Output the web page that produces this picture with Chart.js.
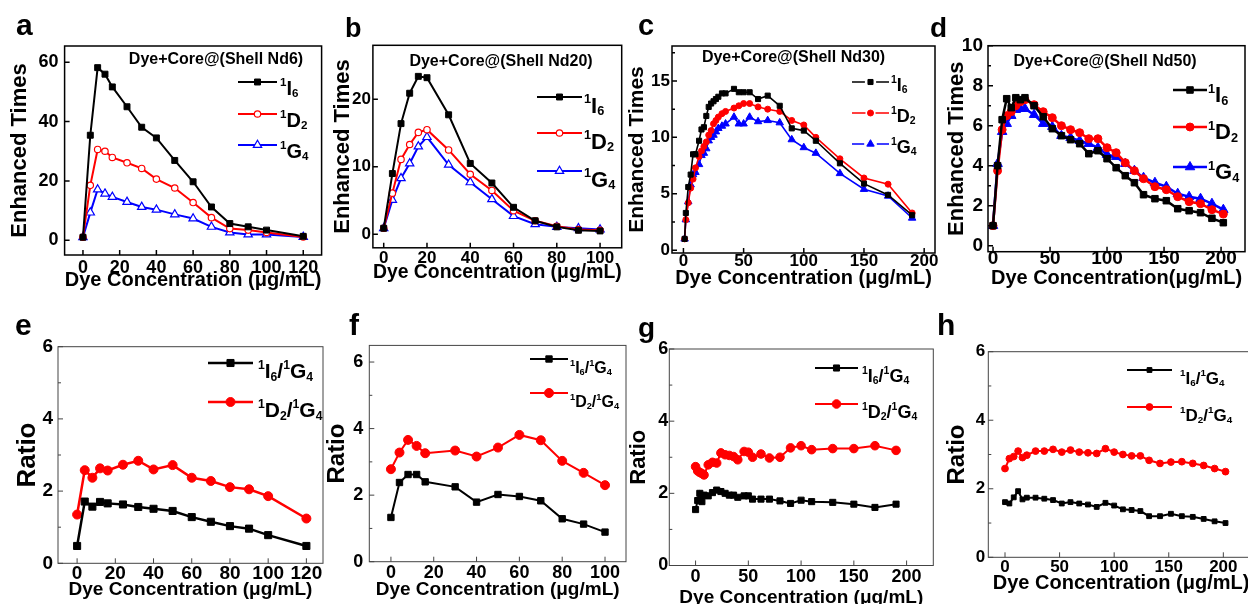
<!DOCTYPE html>
<html><head><meta charset="utf-8">
<script src="https://cdn.jsdelivr.net/npm/chart.js@4.4.0/dist/chart.umd.min.js"></script>
<style>
html,body{margin:0;padding:0;width:1248px;height:604px;overflow:hidden;background:#fff;position:relative;}
canvas{position:absolute;}
</style></head><body>
<script>
// ---------- DATA ----------
const seriesTop = ['¹I₆', '¹D₂', '¹G₄'];
const seriesRatio = ['¹I₆/¹G₄', '¹D₂/¹G₄'];

// panel a (Shell Nd6)
const xA = [0,4,8,12,16,24,32,40,50,60,70,80,90,100,120];
const aI6 = [1,35.4,58.2,56,51.7,45,38.1,34.5,26.9,19.7,11.2,5.6,4.5,3.4,1.3];
const aD2 = [1,18.5,30.6,30,27.9,26.1,24.2,20.6,17.6,12.7,7.6,3.9,3.4,2.6,1.1];
const aG4 = [1,9.3,17.1,15.7,14.6,12.9,11.2,10.3,8.7,7.3,4.5,2.6,1.9,1.9,1.1];

// panel b (Shell Nd20)
const xB = [0,4,8,12,16,20,30,40,50,60,70,80,90,100];
const bI6 = [0.9,9.0,16.4,20.9,23.4,23.2,17.7,10.5,7.6,4.0,2.0,1.1,0.6,0.5];
const bD2 = [0.9,6.1,11.1,13.3,15.1,15.5,12.5,8.9,6.5,3.5,2.0,1.2,0.7,0.6];
const bG4 = [0.9,5.1,8.3,10.5,13.0,14.4,10.3,7.7,5.2,2.7,1.5,1.1,0.9,0.7];

// panel c (Shell Nd30)
const xC = [1,2,4,6,8,10,13,15,17,19,21,23,25,27,29,32,35,42,46,50,55,62,70,80,90,100,110,130,150,170,190];
const cI6 = [1.0,3.3,5.6,6.7,8.5,8.5,9.7,10.7,10.9,11.9,12.7,13.0,13.2,13.4,13.6,13.9,13.9,14.3,14.0,14.0,14.0,13.4,13.7,12.8,10.8,10.6,9.7,7.7,5.9,4.9,3.1];
const cD2 = [1.0,2.7,4.2,5.5,6.3,7.3,8.3,8.8,9.2,9.6,10.2,10.6,11.2,11.5,11.8,12.1,12.3,12.6,12.8,13.0,13.0,12.7,12.5,12.3,11.5,11.1,10.0,8.1,6.4,5.85,3.3];
const cG4 = [1.0,2.7,4.3,5.8,6.7,6.9,7.6,8.4,8.6,9.0,9.7,10.0,10.2,10.5,10.8,11.0,11.2,11.8,11.2,11.2,11.8,11.4,11.5,11.3,9.8,9.1,8.6,6.8,5.4,4.8,2.85];

// panel d (Shell Nd50)
const xD = [0,4,8,12,16,20,24,28,36,44,52,60,68,76,84,92,100,108,116,124,132,142,152,162,172,182,192,202];
const dI6 = [1.0,4.0,6.3,7.35,6.9,7.4,7.3,7.4,7.0,6.45,5.85,5.5,5.3,5.1,4.6,4.75,4.35,3.9,3.5,3.15,2.55,2.35,2.25,1.85,1.75,1.65,1.37,1.15];
const dD2 = [1.0,3.75,5.8,6.5,6.7,7.0,7.2,7.3,7.05,6.7,6.4,6.0,5.8,5.65,5.35,5.35,4.9,4.65,4.15,3.75,3.35,2.95,2.8,2.45,2.2,2.1,1.8,1.58];
const dG4 = [1.0,4.1,5.7,6.1,6.5,6.8,6.85,6.85,6.55,6.1,5.95,5.5,5.4,5.25,5.1,4.9,4.55,4.45,4.1,3.75,3.4,3.15,2.95,2.6,2.45,2.35,2.1,1.8];

// panel e
const xE = [0,4,8,12,16,24,32,40,50,60,70,80,90,100,120];
const eI6G4 = [0.48,1.71,1.57,1.70,1.66,1.63,1.56,1.51,1.45,1.28,1.15,1.03,0.96,0.78,0.48];
const eD2G4 = [1.35,2.58,2.37,2.63,2.57,2.73,2.84,2.60,2.72,2.37,2.28,2.11,2.05,1.86,1.24];

// panel f
const xF = [0,4,8,12,16,30,40,50,60,70,80,90,100];
const fI6G4 = [1.33,2.38,2.62,2.62,2.40,2.25,1.79,2.02,1.96,1.83,1.29,1.13,0.89];
const fD2G4 = [2.78,3.28,3.66,3.48,3.26,3.34,3.16,3.43,3.81,3.65,3.03,2.67,2.30];

// panel g
const xG = [0,2,4,6,8,12,16,20,24,28,32,36,40,46,50,54,62,70,80,90,100,110,130,150,170,190];
const gI6G4 = [1.55,1.80,2.0,1.77,1.95,1.93,2.02,2.09,2.05,2.0,1.95,1.95,1.89,1.93,1.93,1.84,1.84,1.84,1.79,1.72,1.81,1.77,1.75,1.70,1.61,1.70];
const gD2G4 = [2.74,2.62,2.58,2.55,2.51,2.79,2.86,2.84,3.12,3.07,3.05,3.02,2.93,3.16,3.14,3.0,3.09,2.98,3.0,3.26,3.32,3.21,3.24,3.24,3.32,3.19];

// panel h
const xH = [0,4,8,12,16,20,28,36,44,52,60,68,76,84,92,100,108,116,124,132,142,152,162,172,182,192,202];
const hI6G4 = [1.61,1.57,1.75,1.93,1.69,1.74,1.74,1.71,1.67,1.57,1.61,1.57,1.54,1.47,1.59,1.51,1.40,1.38,1.35,1.2,1.2,1.27,1.2,1.18,1.12,1.05,1.0];
const hD2G4 = [2.59,2.88,2.94,3.1,2.91,2.98,3.1,3.1,3.15,3.07,3.13,3.07,3.05,3.03,3.17,3.07,3.0,2.96,2.96,2.83,2.74,2.78,2.79,2.74,2.68,2.59,2.5];

// tick labels
const ticksX120 = [0,20,40,60,80,100,120];
const ticksX100 = [0,20,40,60,80,100];
const ticksX200 = [0,50,100,150,200];
const ticksYa = [0,20,40,60];
const ticksYb = [0,10,20];
const ticksYc = [0,5,10,15];
const ticksYd = [0,2,4,6,8,10];
const ticksYr = [0,2,4,6];
const minorYr = [1,3,5];
const minorYc = [2.5,7.5,12.5,17.5];
const minorYd = [1,3,5,7,9];

const titleX = 'Dye Concentration (μg/mL)';
const titleXd = 'Dye Concentration(μg/mL)';
const titleYtop = 'Enhanced Times';
const titleYbot = 'Ratio';
const insetTitles = ['Dye+Core@(Shell Nd6)','Dye+Core@(Shell Nd20)','Dye+Core@(Shell Nd30)','Dye+Core@(Shell Nd50)'];
const panelLetters = ['a','b','c','d','e','f','g','h'];

// ---------- RENDERING ----------
const FAM = "'Liberation Sans', Arial, Helvetica, sans-serif";
const SUP = {'¹':'1','²':'2','³':'3'};
const SUB = {'₀':'0','₁':'1','₂':'2','₃':'3','₄':'4','₅':'5','₆':'6'};

function richText(ctx, str, x, y, size) {
  let cx = x;
  for (const ch of str) {
    let t = ch, s = size, dy = 0;
    if (SUP[ch]) { t = SUP[ch]; s = size*0.58; dy = -size*0.42; }
    else if (SUB[ch]) { t = SUB[ch]; s = size*0.58; dy = size*0.12; }
    ctx.font = 'bold ' + s + 'px ' + FAM;
    ctx.fillText(t, cx, y + dy);
    cx += ctx.measureText(t).width;
  }
}
function marker(ctx, style, x, y, r, fill, stroke, bw) {
  ctx.beginPath();
  if (style === 'rect') { const s = r*Math.SQRT1_2; ctx.rect(x-s, y-s, 2*s, 2*s); }
  else if (style === 'circle') { ctx.arc(x, y, r, 0, Math.PI*2); }
  else { for (let k = 0; k < 3; k++) { const a = k*2*Math.PI/3; const px = x + Math.sin(a)*r, py = y - Math.cos(a)*r; if (k) ctx.lineTo(px, py); else ctx.moveTo(px, py); } ctx.closePath(); }
  ctx.fillStyle = fill; ctx.fill(); ctx.lineWidth = bw; ctx.strokeStyle = stroke; ctx.stroke();
}

function makeDeco(p) {
  return {
    id: 'deco' + p.id,
    afterDatasetsDraw(chart) {
      const ctx = chart.ctx, ca = chart.chartArea, xs = chart.scales.x, ys = chart.scales.y;
      const ox = p.cx, oy = p.cy;
      ctx.save();
      ctx.strokeStyle = p.frame; ctx.lineWidth = p.fw;
      ctx.strokeRect(ca.left, ca.top, ca.right - ca.left, ca.bottom - ca.top);
      ctx.beginPath();
      p.xt.forEach(v => { const px = xs.getPixelForValue(v); ctx.moveTo(px, ca.bottom); ctx.lineTo(px, ca.bottom - 5); });
      p.yt.forEach(v => { const py = ys.getPixelForValue(v); ctx.moveTo(ca.left, py); ctx.lineTo(ca.left + 5, py); });
      (p.ym || []).forEach(v => { const py = ys.getPixelForValue(v); ctx.moveTo(ca.left, py); ctx.lineTo(ca.left + 3, py); });
      ctx.stroke();
      // panel letter
      ctx.fillStyle = '#000'; ctx.textAlign = 'left'; ctx.textBaseline = 'alphabetic';
      ctx.font = 'bold ' + p.letter.size + 'px ' + FAM;
      ctx.fillText(p.letter.t, p.letter.x - ox, p.letter.y - oy);
      if (p.inset) {
        ctx.font = 'bold ' + p.inset.size + 'px ' + FAM;
        ctx.textAlign = 'center'; ctx.textBaseline = 'middle';
        ctx.fillText(p.inset.t, p.inset.x - ox, p.inset.y - oy);
      }
      const lg = p.legend;
      p.series.forEach((s, i) => {
        const y = lg.rows[i] - oy, x1 = lg.x1 - ox, x2 = lg.x2 - ox, xm = (x1 + x2)/2;
        ctx.strokeStyle = s.color; ctx.lineWidth = p.lw; ctx.beginPath();
        if (lg.gap) { ctx.moveTo(x1, y); ctx.lineTo(xm - s.r - lg.gap, y); ctx.moveTo(xm + s.r + lg.gap, y); ctx.lineTo(x2, y); }
        else { ctx.moveTo(x1, y); ctx.lineTo(x2, y); }
        ctx.stroke();
        marker(ctx, s.style, xm, y, s.r, s.fill, s.color, s.bw);
        ctx.fillStyle = '#000'; ctx.textAlign = 'left'; ctx.textBaseline = 'alphabetic';
        richText(ctx, s.label, lg.tx - ox, y + lg.bo, lg.size);
      });
      ctx.restore();
    }
  };
}

function makePanel(p) {
  const cv = document.createElement('canvas');
  cv.width = p.cw; cv.height = p.ch;
  cv.style.left = p.cx + 'px'; cv.style.top = p.cy + 'px';
  document.body.appendChild(cv);
  const datasets = p.series.map(s => ({
    label: s.label,
    data: s.x.map((xv, i) => ({x: xv, y: s.y[i]})),
    borderColor: s.color, backgroundColor: s.fill, borderWidth: p.lw,
    pointStyle: s.style, pointRadius: s.r, pointBorderWidth: s.bw,
    pointBackgroundColor: s.fill, pointBorderColor: s.color,
    tension: 0, fill: false
  }));
  const B = p.box;
  new Chart(cv, {
    type: 'line',
    data: {datasets},
    options: {
      responsive: false, animation: false, events: [],
      layout: {autoPadding: false, padding: {left: 0, top: B.T - p.cy, right: p.cx + p.cw - B.R, bottom: 0}},
      plugins: {legend: {display: false}, tooltip: {enabled: false}},
      scales: {
        x: {
          type: 'linear', min: p.xr[0], max: p.xr[1],
          afterFit: s => { s.height = p.cy + p.ch - B.B; },
          afterBuildTicks: s => { s.ticks = p.xt.map(v => ({value: v})); },
          grid: {display: false, drawTicks: false}, border: {display: false},
          ticks: {autoSkip: false, maxRotation: 0, padding: p.xpad, color: '#000',
                  font: {family: FAM, size: p.tick, weight: 'bold'}, callback: v => String(v)},
          title: {display: true, text: p.xtitle, color: '#000',
                  font: {family: FAM, size: p.xts, weight: 'bold'}, padding: {top: 0, bottom: p.xtp}}
        },
        y: {
          type: 'linear', min: p.yr[0], max: p.yr[1],
          afterFit: s => { s.width = B.L - p.cx; },
          afterBuildTicks: s => { s.ticks = p.yt.map(v => ({value: v})); },
          grid: {display: false, drawTicks: false}, border: {display: false},
          ticks: {autoSkip: false, padding: p.ypad, color: '#000',
                  font: {family: FAM, size: p.tick, weight: 'bold'}, callback: v => String(v)},
          title: {display: true, text: p.ytitle, color: '#000',
                  font: {family: FAM, size: p.yts, weight: 'bold'}, padding: {top: p.ytp, bottom: 0}}
        }
      }
    },
    plugins: [makeDeco(p)]
  });
}

const BLK = '#000000', RED = '#ff0000', BLU = '#0000ff', WHT = '#ffffff';
function top3(x, a, b, c, open, rs) {
  return [
    {label: seriesTop[0], x, y: a, color: BLK, fill: BLK, style: 'rect', r: rs[0], bw: 1},
    {label: seriesTop[1], x, y: b, color: RED, fill: open ? WHT : RED, style: 'circle', r: rs[1], bw: open ? 1.2 : 1},
    {label: seriesTop[2], x, y: c, color: BLU, fill: open ? WHT : BLU, style: 'triangle', r: rs[2], bw: open ? 1.2 : 1}
  ];
}
function ratio2(x, a, b, rs) {
  return [
    {label: seriesRatio[0], x, y: a, color: BLK, fill: BLK, style: 'rect', r: rs[0], bw: 1},
    {label: seriesRatio[1], x, y: b, color: RED, fill: RED, style: 'circle', r: rs[1], bw: 1}
  ];
}

const panels = [
  {id:'a', cx:0, cy:0, cw:330, ch:300, box:{L:64.6,T:46,R:321.6,B:255}, xr:[-10,130], yr:[-5,65.5],
   xt:ticksX120, yt:ticksYa, tick:18, xpad:2.5, ypad:6, lw:2, frame:'#000', fw:1.5,
   xtitle:titleX, xts:20, xtp:8, ytitle:titleYtop, yts:22, ytp:6.8,
   letter:{t:panelLetters[0], x:16, y:35, size:30}, inset:{t:insetTitles[0], x:216, y:60, size:16},
   legend:{x1:238, x2:277, rows:[82,114,145], tx:280, size:20, bo:12.5},
   series: top3(xA, aI6, aD2, aG4, true, [4.2,3.2,4.8])},
  {id:'b', cx:325, cy:0, cw:305, ch:300, box:{L:372.9,T:45.3,R:621.7,B:247.8}, xr:[-5,110], yr:[-2,28],
   xt:ticksX100, yt:ticksYb, tick:17, xpad:0, ypad:2, lw:2, frame:'#000', fw:1.5,
   xtitle:titleX, xts:21, xtp:15, ytitle:titleYtop, yts:22, ytp:4.8,
   letter:{t:panelLetters[1], x:345, y:37, size:27}, inset:{t:insetTitles[1], x:501, y:62, size:16},
   legend:{x1:537, x2:582, rows:[97,133,171], tx:584, size:22, bo:15.5},
   series: top3(xB, bI6, bD2, bG4, true, [4.2,3.2,4.8])},
  {id:'c', cx:615, cy:0, cw:327, ch:300, box:{L:672,T:46,R:935,B:253}, xr:[-9.5,209], yr:[-0.25,18.1],
   xt:ticksX200, yt:ticksYc, ym:minorYc, tick:17, xpad:-2, ypad:2, lw:1.6, frame:'#000', fw:1.5,
   xtitle:titleX, xts:20, xtp:10, ytitle:titleYtop, yts:21, ytp:9.4,
   letter:{t:panelLetters[2], x:638, y:35, size:29}, inset:{t:insetTitles[2], x:793.5, y:58, size:16},
   legend:{x1:852, x2:889, rows:[82,113,144], tx:891, size:18, bo:9, gap:2},
   series: top3(xC, cI6, cD2, cG4, false, [3.6,3.0,4.3])},
  {id:'d', cx:922, cy:0, cw:326, ch:300, box:{L:988,T:45.7,R:1245,B:251.7}, xr:[-4.4,221], yr:[-0.3,10],
   xt:ticksX200, yt:ticksYd, ym:minorYd, tick:19, xpad:-4, ypad:5, lw:2.5, frame:'#000', fw:1.5,
   xtitle:titleXd, xts:20, xtp:10, ytitle:titleYtop, yts:22, ytp:21.8,
   letter:{t:panelLetters[3], x:930, y:37, size:28}, inset:{t:insetTitles[3], x:1105, y:62, size:16},
   legend:{x1:1173, x2:1207, rows:[90,127,167], tx:1208, size:22, bo:12},
   series: top3(xD, dI6, dD2, dG4, false, [4.6,4.0,5.5])},
  {id:'e', cx:0, cy:300, cw:330, ch:304, box:{L:58,T:346.7,R:323,B:563.3}, xr:[-10,128.7], yr:[0,6],
   xt:ticksX120, yt:ticksYr, ym:minorYr, tick:19, xpad:-1, ypad:5, lw:2.5, frame:'#444', fw:1,
   xtitle:titleX, xts:19, xtp:2.6, ytitle:titleYbot, yts:26, ytp:12.4,
   letter:{t:panelLetters[4], x:15, y:335, size:30},
   legend:{x1:208, x2:253, rows:[363,402], tx:258, size:21, bo:15},
   series: ratio2(xE, eI6G4, eD2G4, [5,4.5])},
  {id:'f', cx:315, cy:300, cw:315, ch:304, box:{L:369.3,T:345.4,R:626,B:561.7}, xr:[-10.1,109.8], yr:[0,6.5],
   xt:ticksX100, yt:ticksYr, ym:minorYr, tick:18, xpad:0.5, ypad:6, lw:2, frame:'#444', fw:1,
   xtitle:titleX, xts:19, xtp:2.6, ytitle:titleYbot, yts:24, ytp:7.6,
   letter:{t:panelLetters[5], x:349, y:335, size:30},
   legend:{x1:530, x2:568, rows:[359,393], tx:570, size:16, bo:14},
   series: ratio2(xF, fI6G4, fD2G4, [4.5,4.5])},
  {id:'g', cx:615, cy:300, cw:325, ch:320, box:{L:669.3,T:349,R:933.3,B:565.5}, xr:[-24.9,225.3], yr:[0,6],
   xt:ticksX200, yt:ticksYr, ym:minorYr, tick:18, xpad:0.5, ypad:1, lw:2, frame:'#444', fw:1,
   xtitle:titleX, xts:19, xtp:10.6, ytitle:titleYbot, yts:22, ytp:10.8,
   letter:{t:panelLetters[6], x:638, y:337, size:28},
   legend:{x1:815, x2:858, rows:[368,404], tx:862, size:18, bo:14},
   series: ratio2(xG, gI6G4, gD2G4, [4.3,4.3])},
  {id:'h', cx:935, cy:300, cw:330, ch:304, box:{L:988.3,T:351.7,R:1253.9,B:557.3}, xr:[-15.3,228], yr:[0,6],
   xt:ticksX200, yt:ticksYr, ym:minorYr, tick:17, xpad:0, ypad:3, lw:2, frame:'#444', fw:1,
   xtitle:titleX, xts:20, xtp:9, ytitle:titleYbot, yts:24, ytp:7.6,
   letter:{t:panelLetters[7], x:937, y:335, size:30},
   legend:{x1:1127, x2:1172, rows:[370,407], tx:1180, size:17, bo:13.5},
   series: ratio2(xH, hI6G4, hD2G4, [3.4,3.4])}
];
panels.forEach(makePanel);
</script>
</body></html>
